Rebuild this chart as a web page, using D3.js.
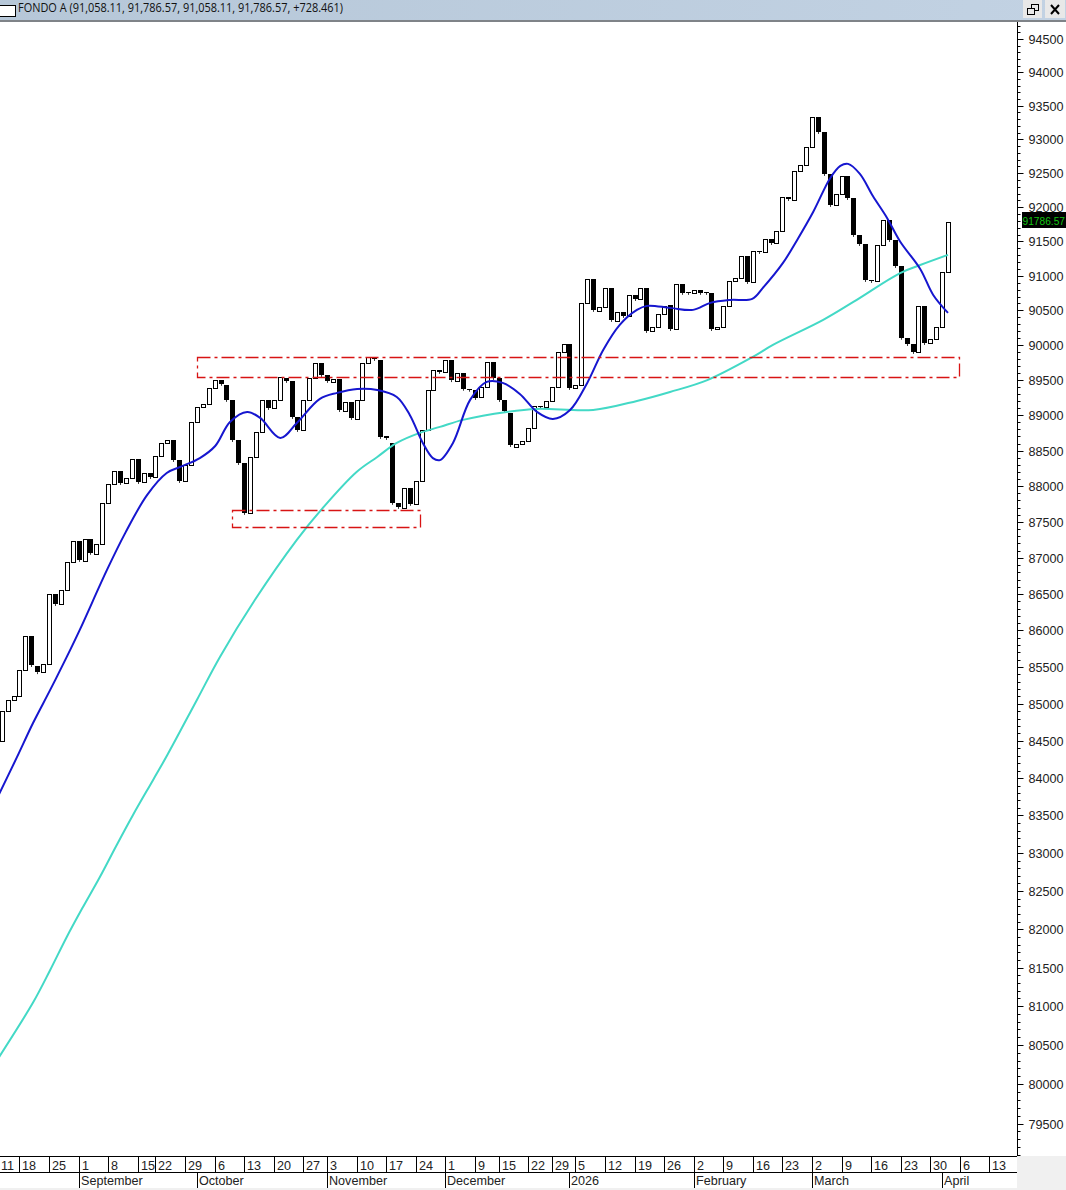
<!DOCTYPE html>
<html><head><meta charset="utf-8">
<style>html,body{margin:0;padding:0;background:#fff;overflow:hidden}svg{display:block}</style>
<script src="https://cdn.jsdelivr.net/npm/d3@7"></script></head>
<body><svg id="c" width="1066" height="1190"></svg>
<script>
const titleText = "FONDO A (91,058.11, 91,786.57, 91,058.11, 91,786.57, +728.461)";
const lastPrice = "91786.57";
const opens = [84497,84903,85052,85106,85459,85925,85514,85430,85541,86500,86363,86556,86944,87236,86958,87264,87056,87194,87766,88031,88213,88045,88115,88382,88059,88189,88129,88424,88608,88650,88368,88073,88298,88905,89118,89161,89389,89500,89433,89218,88650,88326,87626,88410,88765,89218,89104,89218,89531,89489,88976,88792,89218,89531,89746,89574,89474,89517,89061,89189,88948,89218,89746,89832,89789,88708,88608,87766,87696,87975,87752,88073,88792,89363,89646,89618,89789,89489,89603,89377,89363,89260,89404,89760,89531,89218,89033,88550,88594,88636,88820,89132,89118,89203,89404,89903,90017,89389,89433,90608,90955,90493,90550,90825,90348,90478,90420,90723,90665,90825,90204,90261,90449,90579,90232,90883,90767,90753,90796,90767,90753,90232,90261,90565,90926,90969,91289,90911,91362,91347,91535,91477,91650,92151,92106,92530,92623,92889,93334,93111,92490,92034,92195,92459,92136,91595,91463,90940,90926,91449,91815,91522,91143,90106,90017,89903,90565,90031,90089,90261,91058.11];
const closes = [84903,85052,85106,85459,85925,85527,85430,85541,86500,86363,86556,86944,87236,86972,87264,87070,87194,87766,88031,88213,88045,88115,88382,88059,88189,88129,88424,88608,88650,88368,88073,88298,88905,89118,89161,89389,89500,89447,89218,88650,88326,87626,88410,88765,89218,89104,89218,89545,89489,88976,88792,89218,89531,89746,89574,89489,89517,89075,89189,88962,89218,89746,89832,89803,88693,88679,87766,87710,87975,87752,88073,88792,89363,89646,89618,89789,89500,89603,89377,89363,89246,89404,89760,89531,89218,89061,88579,88594,88636,88820,89132,89118,89203,89404,89903,90017,89389,89433,90608,90955,90507,90550,90825,90363,90478,90420,90723,90665,90825,90204,90261,90449,90565,90232,90883,90753,90753,90796,90753,90753,90232,90261,90565,90926,90969,91289,90911,91362,91347,91535,91477,91650,92151,92121,92530,92623,92889,93334,93111,92490,92034,92195,92459,92136,91595,91463,90940,90926,91449,91815,91522,91143,90106,90017,89903,90565,90031,90089,90261,91058,91786.57];

const fastIdx = [-1,2.6,5.3,8.2,11,13.2,17.8,20.9,24.6,27.9,30.2,33.5,36.1,38.6,41.5,43.7,47.1,49.9,53.8,56.7,60.1,63.5,66.8,69,71.2,72.9,74.1,76.3,79.2,82,84.7,87.6,90.5,93.2,96.1,99,101.7,104.5,107.4,109.1,113,116.9,119.8,123.2,126.9,128.7,132.1,134.5,137.2,140.1,141.8,143.1,145.1,147.3,149.7,151.9,155.3,157.5,160];
const fastVal = [83693,84283,84740,85188,85637,86007,86833,87347,87878,88185,88270,88395,88565,88905,89047,88962,88679,88891,89232,89318,89374,89360,89260,89004,88608,88394,88366,88608,89218,89474,89460,89303,89047,88948,89075,89460,89931,90292,90507,90565,90536,90507,90608,90651,90665,90825,91187,91522,91930,92430,92608,92638,92490,92165,91843,91500,91100,90723,90464];
const slowIdx = [-1,5.35,8.2,11,13.75,16.6,19.45,22.2,25.6,28,33,36.9,42.8,49.9,54.3,60,63.5,66.8,70.7,74.1,78,85.4,90.5,100,107.4,113,119.3,127,130.4,138.9,144,151.9,155.3,160];
const slowVal = [80282,81054,81469,81899,82292,82686,83109,83507,83975,84308,85052,85637,86417,87250,87696,88199,88410,88608,88750,88835,88934,89047,89090,89075,89203,89331,89500,89832,90003,90363,90622,91040,91156,91304];

const rangeUpperPrice = [89835,89550];
const rangeUpperIdx = [33,161.9];
const rangeLowerPrice = [87670,87430];
const rangeLowerIdx = [39,70.8];

const priceTicks = d3.range(79500,95000,500);
const minorTicks = d3.range(79100,94900,100).filter(v=>v%500!==0);
const dayLabels = ["11","18","25","1","8","15","22","29","6","13","20","27","3","10","17","24","1","9","15","22","29","5","12","19","26","2","9","16","23","2","9","16","23","30","6","13"];
const dayIdx = [-0.3,3,8,13,18,23,26,31,36,41,46,51,55,60,65,70,75,80,84,89,93,97,102,107,112,117,122,127,132,137,142,147,152,157,162,167];
const monthLabels = ["September","October","November","December","2026","February","March","April"];
const monthIdx = [13,33,55,75,96,117,137,159];

const svg = d3.select("#c");
const sans = "'Liberation Sans',Arial,sans-serif";
const plotRight = 1017, plotTop = 22, plotBottom = 1156;
const x = d3.scaleLinear().domain([0,160]).range([1.7,948]);
const y = d3.scaleLog().domain([79500,94500]).range([1123.5,39]);

const defs = svg.append("defs");
const g = defs.append("linearGradient").attr("id","tb");
g.append("stop").attr("offset","0").attr("stop-color","#b6c7d8");
g.append("stop").attr("offset","1").attr("stop-color","#c2d2e3");
defs.append("clipPath").attr("id","plot").append("rect").attr("x",0).attr("y",plotTop).attr("width",plotRight).attr("height",plotBottom-plotTop);

svg.append("rect").attr("width",1066).attr("height",1190).attr("fill","#fff");

// candles
const plot = svg.append("g").attr("clip-path","url(#plot)");
const candles = opens.map((o,i)=>({i,o,c:closes[i]}));
const px = d=>Math.round(x(d.i));
const black = candles.filter(d=>d.c<d.o), white = candles.filter(d=>d.c>=d.o);
plot.selectAll(".w").data(black).join("line").attr("class","w")
  .attr("x1",d=>px(d)+.5).attr("x2",d=>px(d)+.5)
  .attr("y1",d=>y(d.c)).attr("y2",d=>y(d.c)+2).attr("stroke","#333").attr("stroke-width",1);
plot.selectAll(".b").data(black).join("rect").attr("class","b")
  .attr("x",d=>px(d)-2).attr("width",5)
  .attr("y",d=>Math.round(y(d.o))).attr("height",d=>Math.max(1,Math.round(y(d.c))-Math.round(y(d.o))))
  .attr("fill","#000");
plot.selectAll(".u").data(white).join("rect").attr("class","u")
  .attr("x",d=>px(d)-1.5).attr("width",4)
  .attr("y",d=>Math.round(y(d.c))+.5).attr("height",d=>Math.max(1,Math.round(y(d.o))-Math.round(y(d.c))))
  .attr("fill","#fff").attr("stroke","#000").attr("stroke-width",1);

// moving averages
const line = d3.line().x(d=>x(d[0])).y(d=>y(d[1])).curve(d3.curveCatmullRom.alpha(0.5));
plot.append("path").attr("d",line(d3.zip(slowIdx,slowVal))).attr("fill","none").attr("stroke","#43d9c6").attr("stroke-width",2);
plot.append("path").attr("d",line(d3.zip(fastIdx,fastVal))).attr("fill","none").attr("stroke","#1616cf").attr("stroke-width",2);

// dash-dot range boxes
[[rangeUpperIdx,rangeUpperPrice],[rangeLowerIdx,rangeLowerPrice]].forEach(([ix,pr])=>{
  plot.append("rect")
    .attr("x",Math.round(x(ix[0]))+.5).attr("width",Math.round(x(ix[1])-x(ix[0])))
    .attr("y",Math.round(y(pr[0]))+.5).attr("height",Math.round(y(pr[1])-y(pr[0])))
    .attr("fill","none").attr("stroke","#d81414").attr("stroke-width",1.3).attr("stroke-dasharray","13,4,3,4");
});

// right axis
const axR = svg.append("g").attr("transform",`translate(${plotRight+.5},0)`)
  .call(d3.axisRight(y).tickValues(priceTicks).tickSize(6).tickPadding(5).tickFormat(d3.format("d")));
axR.select(".domain").attr("d",`M0,${plotTop}V${plotBottom}`).attr("stroke","#000");
axR.selectAll("text").attr("font-family",sans).attr("font-size",12.6).attr("fill","#222");
axR.selectAll(".tick").each(function(){const t=d3.select(this);t.attr("transform",`translate(0,${Math.round(y(t.datum()))+.5})`);});
axR.selectAll(".tick line").attr("stroke","#000");
const axM = svg.append("g").attr("transform",`translate(${plotRight+.5},0)`)
  .call(d3.axisRight(y).tickValues(minorTicks).tickSize(3).tickFormat(""));
axM.select(".domain").remove();
axM.selectAll(".tick").each(function(){const t=d3.select(this);t.attr("transform",`translate(0,${Math.round(y(t.datum()))+.5})`);});
axM.selectAll(".tick line").attr("stroke","#000");

// last-price tag
svg.append("rect").attr("x",1022).attr("y",212).attr("width",44).attr("height",16).attr("fill","#000");
svg.append("text").attr("x",1022.5).attr("y",224.5).attr("font-family",sans).attr("font-size",10.4)
  .attr("textLength",42.5).attr("lengthAdjust","spacingAndGlyphs").attr("fill","#12c412").text(lastPrice);

// bottom date strips
svg.append("rect").attr("x",plotRight).attr("y",plotBottom).attr("width",1066-plotRight).attr("height",1190-plotBottom).attr("fill","#f0f0f0");
svg.append("rect").attr("x",0).attr("y",1188).attr("width",1066).attr("height",2).attr("fill","#f0f0f0");
const rowLine = (yy)=>svg.append("line").attr("x1",0).attr("x2",plotRight).attr("y1",yy).attr("y2",yy).attr("stroke","#000");
rowLine(plotBottom+.5); rowLine(1172.5);

const axD = svg.append("g").attr("transform","translate(0,1157)")
  .call(d3.axisBottom(x).tickValues(dayIdx.filter(d=>x(d)<plotRight)).tickSize(15).tickFormat(""));
axD.select(".domain").remove();
axD.selectAll("line").attr("stroke","#000");
axD.selectAll(".tick").each(function(d){d3.select(this).attr("transform",`translate(${Math.round(x(d))+.5},0)`);});
axD.selectAll(".tick line").filter(d=>d<0).remove();
dayLabels.forEach((t,k)=>{
  svg.append("text").attr("x",k===0?1:Math.round(x(dayIdx[k]))+3).attr("y",1169.5)
    .attr("font-family",sans).attr("font-size",12.6).attr("fill","#222").text(t);
});
const axMo = svg.append("g").attr("transform","translate(0,1173)")
  .call(d3.axisBottom(x).tickValues(monthIdx).tickSize(15).tickFormat(""));
axMo.select(".domain").remove();
axMo.selectAll("line").attr("stroke","#000");
axMo.selectAll(".tick").each(function(d){d3.select(this).attr("transform",`translate(${Math.round(x(d))+.5},0)`);});
monthLabels.forEach((t,k)=>{
  svg.append("text").attr("x",Math.round(x(monthIdx[k]))+2).attr("y",1185)
    .attr("font-family",sans).attr("font-size",12.6).attr("fill","#222").text(t);
});

// title bar
svg.append("rect").attr("width",1066).attr("height",20).attr("fill","url(#tb)");
svg.append("rect").attr("y",20).attr("width",1066).attr("height",2).attr("fill","#7f8388");
svg.append("rect").attr("x",-1).attr("y",5.5).attr("width",16.5).attr("height",11).attr("fill","#fff").attr("stroke","#000");
svg.append("text").attr("x",18).attr("y",12).attr("font-family","'Open Sans',sans-serif").attr("font-size",12)
  .attr("textLength",325).attr("lengthAdjust","spacingAndGlyphs").attr("fill","#111").text(titleText);
// window buttons
svg.append("rect").attr("x",1023).attr("y",0).attr("width",19).attr("height",18).attr("fill","#e8e8e8");
svg.append("rect").attr("x",1045).attr("y",0).attr("width",20).attr("height",18).attr("fill","#e8e8e8");
svg.append("rect").attr("x",1031.5).attr("y",4.5).attr("width",7).attr("height",6).attr("fill","none").attr("stroke","#000");
svg.append("rect").attr("x",1027.5).attr("y",8.5).attr("width",7).attr("height",6).attr("fill","#e8e8e8").attr("stroke","#000");
svg.append("path").attr("d","M1051,5L1059,14M1059,5L1051,14").attr("stroke","#000").attr("stroke-width",2);
</script></body></html>
